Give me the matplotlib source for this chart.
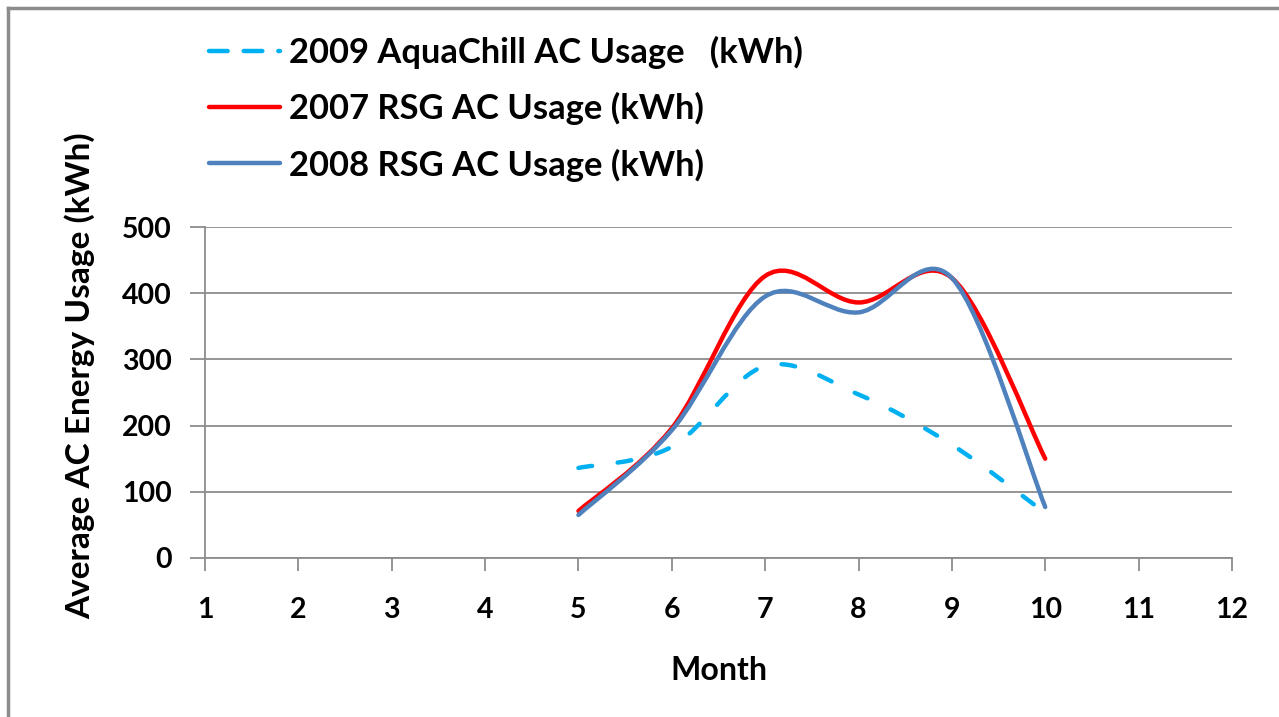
import matplotlib
matplotlib.use("Agg")
import matplotlib.pyplot as plt
from matplotlib.path import Path
from matplotlib.patches import PathPatch
from matplotlib.lines import Line2D

months = [5, 6, 7, 8, 9, 10]
aquachill_2009 = [136, 168, 290, 247, 171, 68]
rsg_2007 = [71, 196, 426, 386, 423, 150]
rsg_2008 = [65, 193, 395, 371, 423, 77]

labels = ["2009 AquaChill AC Usage   (kWh)",
          "2007 RSG AC Usage (kWh)",
          "2008 RSG AC Usage (kWh)"]
colors = ["#00B0F0", "#FF0000", "#4F81BD"]

plt.rcParams['font.family'] = ['Lato', 'DejaVu Sans']


# Excel style smoothed line: cubic bezier through the points
def smooth_path(xs, ys):
    n = len(xs)
    verts = [(xs[0], ys[0])]
    codes = [Path.MOVETO]
    for i in range(n - 1):
        x0, y0 = xs[max(i - 1, 0)], ys[max(i - 1, 0)]
        x1, y1 = xs[i], ys[i]
        x2, y2 = xs[i + 1], ys[i + 1]
        x3, y3 = xs[min(i + 2, n - 1)], ys[min(i + 2, n - 1)]
        c1 = (x1 + (x2 - x0) / 6.0, y1 + (y2 - y0) / 6.0)
        c2 = (x2 - (x3 - x1) / 6.0, y2 - (y3 - y1) / 6.0)
        verts += [c1, c2, (x2, y2)]
        codes += [Path.CURVE4] * 3
    return Path(verts, codes)


fig = plt.figure(figsize=(12.79, 7.17), dpi=100)
ax = fig.add_axes([0.1603, 0.2218, 0.8029, 0.4616])

styles = [(0, (3.1, 5.8)), "-", "-"]
legend_styles = [(0, (4.2, 3.6)), "-", "-"]
handles = []
for ys, col, ls, lls in zip([aquachill_2009, rsg_2007, rsg_2008], colors, styles, legend_styles):
    p = PathPatch(smooth_path(months, ys), fill=False, edgecolor=col, lw=3.2,
                  linestyle=ls, capstyle="round", joinstyle="round", zorder=3)
    ax.add_patch(p)
    handles.append(Line2D([], [], color=col, lw=3.2, linestyle=lls,
                          solid_capstyle="round", dash_capstyle="round"))

ax.set_xlim(1, 12)
ax.set_ylim(0, 500)
ax.set_xticks(range(1, 13))
ax.set_yticks(range(0, 501, 100))
ax.yaxis.grid(True, color="#8C8C8C", lw=1.3)
ax.set_axisbelow(True)
for s in ["top", "right"]:
    ax.spines[s].set_visible(False)
for s in ["left", "bottom"]:
    ax.spines[s].set_color("#8C8C8C")
    ax.spines[s].set_linewidth(1.3)
ax.tick_params(axis="both", colors="#8C8C8C", width=1.3, labelcolor="black",
               labelsize=20.5)
ax.tick_params(axis="y", length=11, pad=13)
ax.tick_params(axis="x", length=9, pad=19)
for t in ax.get_xticklabels() + ax.get_yticklabels():
    t.set_fontweight("bold")

ax.set_xlabel("Month", fontsize=23, fontweight="bold", labelpad=24)
ax.set_ylabel("Average AC Energy Usage (kWh)", fontsize=24, fontweight="bold")
ax.yaxis.set_label_coords(-0.107, 0.55)

fig.legend(handles, labels, loc="upper left", bbox_to_anchor=(0.1394, 0.993),
           frameon=False, handlelength=2.05, handletextpad=0.26,
           labelspacing=0.67, prop={"weight": "bold", "size": 24.8})

# outer chart border
fig.add_artist(Line2D([8 / 1279, 8 / 1279], [0, 1 - 8 / 717], color="#8C8C8C", lw=2.5))
fig.add_artist(Line2D([8 / 1279, 1], [1 - 8 / 717, 1 - 8 / 717], color="#8C8C8C", lw=2.5))

fig.savefig("out.png", dpi=100)
